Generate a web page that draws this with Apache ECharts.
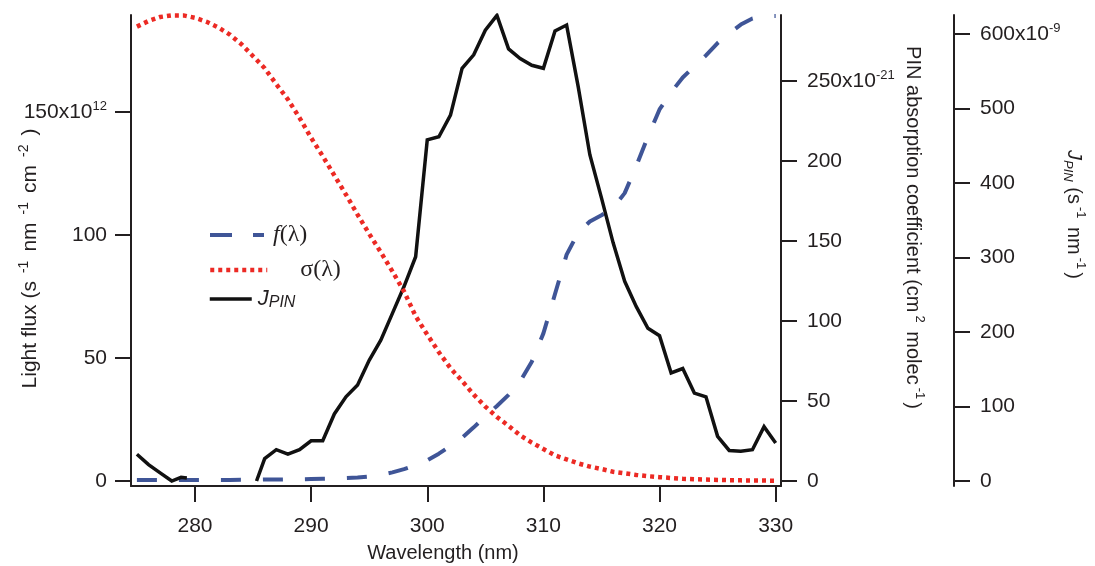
<!DOCTYPE html>
<html><head><meta charset="utf-8">
<script src="https://cdn.jsdelivr.net/npm/echarts@6/dist/echarts.min.js"></script>
<style>html,body{margin:0;padding:0;background:#fff}#c{width:1095px;height:566px}</style>
</head><body><div id="c"></div>
<script>
// ---- data ----
const wavelengths = [275,276,277,278,279,280,281,282,283,284,285,286,287,288,289,290,291,292,293,294,295,296,297,298,299,300,301,302,303,304,305,306,307,308,309,310,311,312,313,314,315,316,317,318,319,320,321,322,323,324,325,326,327,328,329,330];
// f(λ) light flux, x10^12 s-1 nm-1 cm-2
const fluxF = [0.4,0.4,0.4,0.4,0.4,0.4,0.4,0.4,0.4,0.5,0.5,0.6,0.6,0.7,0.7,0.8,0.9,1.0,1.2,1.4,1.8,2.5,3.5,4.8,6.4,8.4,11.1,14.2,17.6,21.8,26.2,30.5,35.0,40.5,48.5,60,76,92,101,105.5,108,111,117,128,140,151,158,164,168.5,173,178,182,185.5,188,189,189];
// σ(λ) absorption coefficient, x10^-21 cm2 molec-1
const sigma = [284,287.5,290,291,291,289.5,287,283.5,279,273,265.5,258,248,238.5,227,214.5,203,191,179,166.5,154.5,143,131,118.5,103,91.5,80.5,70.5,62.5,54,46.5,40,34.5,28.5,24,20,16,13.5,11,9,7.5,5.8,4.8,3.8,3,2.4,1.9,1.4,1.1,0.9,0.7,0.5,0.4,0.3,0.25,0.2];
// J_PIN, x10^-9 s-1 nm-1 (two measured segments)
const jpinWlA = [275,276,277,278,278.8,279.3];
const jpinA = [36,22,11,0,5,4];
const jpinWlB = [285.3,286,287,288,289,290,291,292,293,294,295,296,297,298,299,300,301,302,303,304,305,306,307,308,309,310,311,312,313,314,315,316,317,318,319,320,321,322,323,324,325,326,327,328,329,330];
const jpinB = [0,30,42,36,42,54,54,90,113,129,162,189,225,261,301,458,462,491,554,572,605,625,580,567,558,554,604,612,529,438,380,320,268,234,205,195,145,151,118,113,60,41,40,42,73,51];
const xTicks = [280,290,300,310,320,330];
const fluxTicks = [0,50,100,150];
const sigmaTicks = [0,50,100,150,200,250];
const jTicks = [0,100,200,300,400,500,600];

// ---- chart ----
const F = 'Liberation Sans, Arial, sans-serif';
const SERIF = 'Liberation Serif, Times New Roman, serif';
const AX = '#231f20';
const BLUE = '#3f5597', RED = '#ec2a24', BLACK = '#111111';

const labRich = {
  n: {fontSize: 21, fontFamily: F, color: AX, lineHeight: 24},
  s: {fontSize: 13, fontFamily: F, color: AX, verticalAlign: 'top', lineHeight: 13}
};
function lab(topVal, sup) {
  return v => v === topVal ? '{n|' + v + 'x10}{s|' + sup + '}' : '{n|' + v + '}';
}
const nameRich = {
  t: {fontSize: 20, fontFamily: F, color: AX, lineHeight: 26},
  L: {fontSize: 21, fontFamily: F, color: AX, lineHeight: 26},
  s: {fontSize: 14, fontFamily: F, color: AX, verticalAlign: 'top', lineHeight: 13, padding: [0, 9, 0, 8]},
  s2: {fontSize: 13, fontFamily: F, color: AX, verticalAlign: 'top', lineHeight: 13, padding: [0, 3, 0, 3]},
  ji: {fontSize: 20, fontFamily: F, fontStyle: 'italic', color: AX, lineHeight: 26},
  jb: {fontSize: 13, fontFamily: F, fontStyle: 'italic', color: AX, verticalAlign: 'bottom', lineHeight: 13}
};
function yAx(opt) {
  return Object.assign({
    type: 'value',
    splitLine: {show: false},
    axisLine: {show: true, onZero: false, lineStyle: {color: AX, width: 2}},
    nameLocation: 'middle',
    nameMoveOverlap: false
  }, opt);
}
const noSymbol = {color: 'rgba(0,0,0,0)', borderWidth: 0, opacity: 0};

const chart = echarts.init(document.getElementById('c'));
chart.setOption({
  animation: false,
  backgroundColor: '#ffffff',
  grid: {left: 131, right: 314, top: 15, bottom: 80, containLabel: false, outerBoundsMode: 'none'},
  xAxis: {
    type: 'value', min: 274.49, max: 330.46,
    splitLine: {show: false},
    axisLine: {show: true, onZero: false, lineStyle: {color: AX, width: 2}},
    axisTick: {show: true, length: 16, customValues: xTicks, lineStyle: {color: AX, width: 2}},
    axisLabel: {customValues: xTicks, margin: 30, fontSize: 21, fontFamily: F, color: AX},
    name: 'Wavelength (nm)', nameLocation: 'middle', nameGap: 57, nameMoveOverlap: false,
    nameTextStyle: {fontSize: 20, fontFamily: F, color: AX, padding: [0, 26, 0, 0]}
  },
  yAxis: [
    yAx({
      position: 'left', min: -2.03, max: 189.4,
      axisTick: {show: true, length: 16, customValues: fluxTicks, lineStyle: {color: AX, width: 2}},
      axisLabel: {customValues: fluxTicks, margin: 24, formatter: lab(150, '12'), rich: labRich},
      name: '{L|Light flux (s}{s|-1}{L|nm}{s|-1}{L|cm}{s|-2}{L|)}',
      nameRotate: 90, nameGap: 88,
      nameTextStyle: {rich: nameRich, padding: [0, 16, 0, 0]}
    }),
    yAx({
      position: 'right', offset: 0, min: -3.125, max: 291.25,
      axisTick: {show: true, length: 16, customValues: sigmaTicks, lineStyle: {color: AX, width: 2}},
      axisLabel: {customValues: sigmaTicks, margin: 26, formatter: lab(250, '-21'), rich: labRich},
      name: '{t|PIN absorption coefficient (cm}{s2|2}{t| molec}{s2|-1}{t|)}',
      nameRotate: -90, nameGap: 119,
      nameTextStyle: {rich: nameRich, padding: [0, 46, 0, 0]}
    }),
    yAx({
      position: 'right', offset: 173, min: -6.71, max: 625.5,
      axisTick: {show: true, length: 16, customValues: jTicks, lineStyle: {color: AX, width: 2}},
      axisLabel: {customValues: jTicks, margin: 26, formatter: lab(600, '-9'), rich: labRich},
      name: '{ji|J}{jb|PIN}{t| (s}{s2|-1}{t| nm}{s2|-1}{t|)}',
      nameRotate: -90, nameGap: 107,
      nameTextStyle: {rich: nameRich, padding: [0, 72, 0, 0]}
    })
  ],
  legend: [
    {
      data: ['f(λ)'], left: 208, top: 223, padding: 0, itemWidth: 54, itemHeight: 20, selectedMode: false,
      lineStyle: {color: BLUE, width: 4, type: [22, 21], cap: 'butt'},
      itemStyle: noSymbol,
      formatter: () => '{i|f}{r|(λ)}',
      textStyle: {rich: {
        i: {fontFamily: SERIF, fontStyle: 'italic', fontSize: 24, color: AX, padding: [0, 0, 0, 4]},
        r: {fontFamily: SERIF, fontSize: 24, color: AX}
      }}
    },
    {
      data: ['σ(λ)'], left: 208, top: 258, padding: 0, itemWidth: 57, itemHeight: 20, selectedMode: false,
      lineStyle: {color: RED, width: 4.5, type: [4, 4], cap: 'butt'},
      itemStyle: noSymbol,
      formatter: () => '{r|σ(λ)}',
      textStyle: {rich: {
        r: {fontFamily: SERIF, fontSize: 24, color: AX, padding: [0, 0, 0, 28]}
      }}
    },
    {
      data: ['J_PIN'], left: 208, top: 288, padding: 0, itemWidth: 42, itemHeight: 20, selectedMode: false,
      lineStyle: {color: BLACK, width: 3.5},
      itemStyle: noSymbol,
      formatter: () => '{j|J}{p|PIN}',
      textStyle: {rich: {
        j: {fontFamily: F, fontStyle: 'italic', fontSize: 22, color: AX, lineHeight: 24, padding: [0, 0, 0, 1]},
        p: {fontFamily: F, fontStyle: 'italic', fontSize: 16, color: AX, verticalAlign: 'bottom', lineHeight: 16}
      }}
    }
  ],
  series: [
    {
      name: 'f(λ)', type: 'line', xAxisIndex: 0, yAxisIndex: 0, symbol: 'none', z: 2,
      data: wavelengths.map((w, i) => [w, fluxF[i]]),
      lineStyle: {color: BLUE, width: 4, type: [20, 22], cap: 'butt'},
      itemStyle: {color: BLUE}
    },
    {
      name: 'J_PIN', type: 'line', xAxisIndex: 0, yAxisIndex: 2, symbol: 'none', z: 3,
      connectNulls: false,
      data: jpinWlA.map((w, i) => [w, jpinA[i]]).concat([[282, '-']]).concat(jpinWlB.map((w, i) => [w, jpinB[i]])),
      lineStyle: {color: BLACK, width: 3.5, join: 'miter'},
      itemStyle: {color: BLACK}
    },
    {
      name: 'σ(λ)', type: 'line', xAxisIndex: 0, yAxisIndex: 1, symbol: 'none', z: 4,
      data: wavelengths.map((w, i) => [w, sigma[i]]),
      lineStyle: {color: RED, width: 4.5, type: [4, 4], cap: 'butt'},
      itemStyle: {color: RED}
    }
  ]
});
</script>
</body></html>
